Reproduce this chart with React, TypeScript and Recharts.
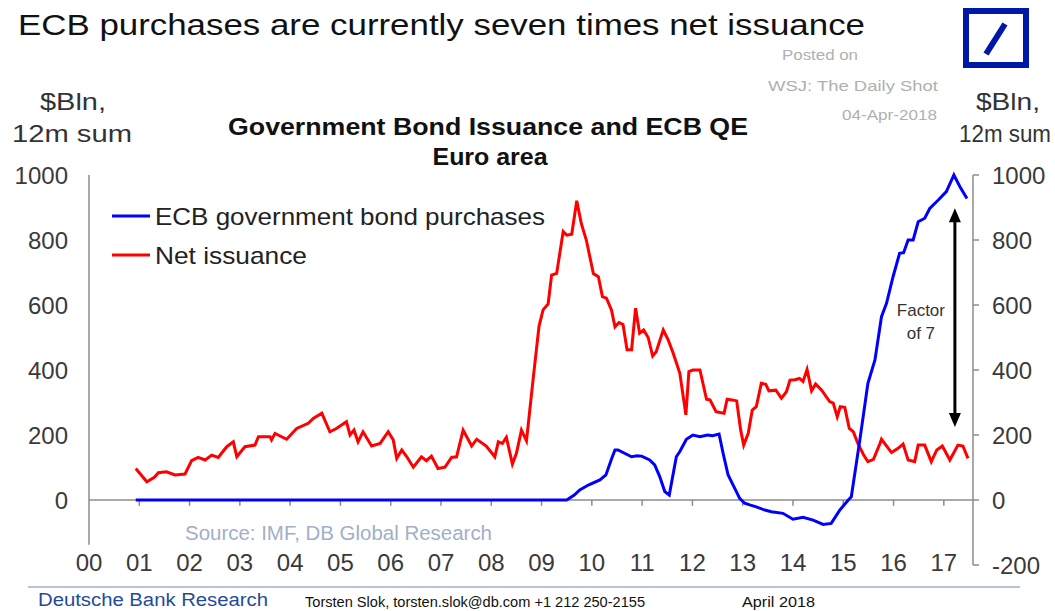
import { LineChart, Line, XAxis, YAxis, ReferenceLine } from "recharts";

// fractional years (x) and $bn 12m sums (y)
const netIssuanceDates = [
  2000.93, 2001.15, 2001.3, 2001.38, 2001.54, 2001.71, 2001.91, 2002.04, 2002.17, 2002.31, 2002.44, 2002.57,
  2002.74, 2002.87, 2002.94, 2003.1, 2003.3, 2003.37, 2003.6, 2003.63, 2003.7, 2003.93, 2004.13, 2004.36,
  2004.46, 2004.63, 2004.79, 2004.92, 2005.12, 2005.19, 2005.27, 2005.35, 2005.45, 2005.62, 2005.79, 2005.95,
  2006.05, 2006.12, 2006.22, 2006.32, 2006.45, 2006.61, 2006.71, 2006.81, 2006.94, 2007.08, 2007.21, 2007.31,
  2007.44, 2007.61, 2007.71, 2007.9, 2008.07, 2008.14, 2008.22, 2008.3, 2008.42, 2008.5, 2008.6, 2008.7,
  2008.83, 2008.95, 2009.03, 2009.13, 2009.2, 2009.3, 2009.43, 2009.5, 2009.6, 2009.7, 2009.79, 2009.89,
  2010.03, 2010.13, 2010.21, 2010.29, 2010.39, 2010.46, 2010.54, 2010.62, 2010.7, 2010.79, 2010.87, 2010.95,
  2011.03, 2011.12, 2011.21, 2011.28, 2011.42, 2011.52, 2011.62, 2011.75, 2011.87, 2011.93, 2012.01, 2012.15,
  2012.28, 2012.35, 2012.47, 2012.55, 2012.63, 2012.69, 2012.79, 2012.88, 2012.96, 2013.02, 2013.11, 2013.19,
  2013.27, 2013.37, 2013.46, 2013.52, 2013.66, 2013.77, 2013.87, 2013.94, 2014.04, 2014.13, 2014.2, 2014.28,
  2014.37, 2014.45, 2014.57, 2014.73, 2014.8, 2014.88, 2014.94, 2015.03, 2015.12, 2015.2, 2015.29, 2015.4,
  2015.49, 2015.6, 2015.73, 2015.76, 2015.96, 2016.09, 2016.19, 2016.29, 2016.42, 2016.49, 2016.62, 2016.75,
  2016.86, 2016.97, 2017.12, 2017.28, 2017.38, 2017.48,
];
const netIssuance = [
  97, 56, 70, 84, 87, 77, 80, 121, 131, 123, 138, 131,
  164, 179, 133, 164, 169, 195, 195, 185, 205, 187, 220, 236,
  251, 267, 210, 220, 241, 200, 215, 179, 210, 166, 174, 210,
  185, 128, 154, 133, 101, 133, 121, 135, 97, 101, 131, 133,
  215, 166, 187, 166, 133, 179, 174, 193, 111, 144, 215, 182,
  369, 535, 585, 603, 692, 697, 826, 815, 818, 921, 851, 800,
  697, 687, 626, 621, 585, 533, 546, 540, 462, 462, 590, 513,
  523, 500, 443, 456, 523, 492, 451, 390, 262, 395, 400, 400,
  310, 308, 272, 269, 267, 310, 308, 305, 215, 169, 205, 277,
  287, 359, 356, 336, 338, 313, 333, 369, 370, 374, 365, 402,
  336, 357, 338, 303, 298, 256, 287, 285, 220, 210, 174, 140,
  118, 125, 174, 187, 146, 159, 172, 123, 118, 169, 169, 118,
  154, 166, 123, 169, 166, 128,
];

const ecbDates = [
  2000.93, 2009.5, 2009.65, 2009.76, 2009.93, 2010.16, 2010.28, 2010.4, 2010.46, 2010.52, 2010.79, 2010.9,
  2010.99, 2011.15, 2011.25, 2011.35, 2011.45, 2011.54, 2011.68, 2011.75, 2011.88, 2012.01, 2012.15, 2012.3,
  2012.4, 2012.53, 2012.61, 2012.71, 2012.81, 2012.94, 2013.04, 2013.14, 2013.27, 2013.44, 2013.57, 2013.8,
  2014.0, 2014.2, 2014.4, 2014.6, 2014.76, 2014.93, 2015.1, 2015.16, 2015.33, 2015.49, 2015.63, 2015.76,
  2015.86, 2015.99, 2016.12, 2016.2, 2016.29, 2016.39, 2016.49, 2016.62, 2016.72, 2016.89, 2017.05, 2017.2,
  2017.32, 2017.46,
];
const ecbPurchases = [
  0, 0, 15, 31, 46, 62, 77, 130, 154, 154, 133, 136,
  135, 123, 108, 72, 26, 15, 133, 149, 187, 200, 195, 200,
  198, 203, 144, 77, 46, 5, -10, -15, -21, -31, -36, -41,
  -59, -53, -62, -75, -72, -31, 0, 10, 185, 359, 431, 564,
  605, 687, 759, 761, 800, 800, 856, 867, 897, 923, 949, 1000,
  964, 928,
];

const yearTicks = [
  2000, 2001, 2002, 2003, 2004, 2005, 2006, 2007, 2008, 2009, 2010, 2011, 2012, 2013, 2014, 2015, 2016, 2017,
];
const leftTicks = [0, 200, 400, 600, 800, 1000];
const rightTicks = [-200, 0, 200, 400, 600, 800, 1000];

const netData = netIssuanceDates.map((d, i) => ({ date: d, value: netIssuance[i] }));
const ecbData = ecbDates.map((d, i) => ({ date: d, value: ecbPurchases[i] }));

const FONT = '"Liberation Sans", Arial, sans-serif';
const AXIS = "#8c8c8c";
const TICK_TEXT = "#3a3a3a";

function YearTick({ x, y, payload }: any) {
  return (
    <text x={x} y={y + 6} textAnchor="middle" fontSize={24} fill={TICK_TEXT} fontFamily={FONT}>
      {String(payload.value % 100).padStart(2, "0")}
    </text>
  );
}

function FactorArrow({ x1, y1, y2 }: any) {
  const top = Math.min(y1, y2);
  const bottom = Math.max(y1, y2);
  return (
    <g>
      <line x1={x1} y1={top + 10} x2={x1} y2={bottom - 10} stroke="#000" strokeWidth={3} />
      <polygon points={`${x1 - 6},${top + 14} ${x1 + 6},${top + 14} ${x1},${top}`} fill="#000" />
      <polygon points={`${x1 - 6},${bottom - 14} ${x1 + 6},${bottom - 14} ${x1},${bottom}`} fill="#000" />
      <text x={x1 - 34} y={top + 108} textAnchor="middle" fontSize={17} fill="#333" fontFamily={FONT}>
        Factor
      </text>
      <text x={x1 - 34} y={top + 131} textAnchor="middle" fontSize={17} fill="#333" fontFamily={FONT}>
        of 7
      </text>
    </g>
  );
}

export default function App() {
  return (
    <div style={{ position: "absolute", left: 0, top: 0, width: 1055, height: 611, background: "#fff" }}>
      <LineChart width={1055} height={611} margin={{ top: 175, right: 0, left: 0, bottom: 0 }}>
        <XAxis
          dataKey="date"
          type="number"
          domain={[2000, 2017.58]}
          ticks={yearTicks}
          height={46}
          axisLine={false}
          tickLine={false}
          tickSize={0}
          tickMargin={0}
          tick={<YearTick />}
        />
        <YAxis
          yAxisId="left"
          type="number"
          domain={[-200, 1000]}
          ticks={leftTicks}
          width={89}
          axisLine={false}
          tickLine={false}
          tickSize={0}
          tickMargin={21}
          tick={{ fontSize: 24, fill: TICK_TEXT, fontFamily: FONT }}
        />
        <YAxis
          yAxisId="right"
          orientation="right"
          type="number"
          domain={[-200, 1000]}
          ticks={rightTicks}
          width={82}
          axisLine={{ stroke: AXIS, strokeWidth: 1.5 }}
          tickLine={{ stroke: AXIS, strokeWidth: 1.5 }}
          tickSize={6}
          tickMargin={13}
          tick={{ fontSize: 24, fill: TICK_TEXT, fontFamily: FONT }}
        />
        <ReferenceLine
          yAxisId="left"
          segment={[
            { x: 2000, y: -138 },
            { x: 2000, y: 1000 },
          ]}
          stroke={AXIS}
          strokeWidth={1.5}
        />
        <ReferenceLine yAxisId="left" y={0} stroke={AXIS} strokeWidth={1.5} />
        {yearTicks.slice(1).map((yr) => (
          <ReferenceLine
            key={yr}
            yAxisId="left"
            segment={[
              { x: yr, y: 0 },
              { x: yr, y: -18 },
            ]}
            stroke={AXIS}
            strokeWidth={1.5}
          />
        ))}
        <ReferenceLine
          yAxisId="left"
          segment={[
            { x: 2017.22, y: 225 },
            { x: 2017.22, y: 898 },
          ]}
          shape={<FactorArrow />}
        />
        <Line
          yAxisId="left"
          data={netData}
          dataKey="value"
          stroke="#ff0000"
          strokeWidth={3}
          dot={false}
          isAnimationActive={false}
        />
        <Line
          yAxisId="left"
          data={ecbData}
          dataKey="value"
          stroke="#0000ff"
          strokeWidth={3}
          dot={false}
          isAnimationActive={false}
        />
        {/* right axis needs a series bound to it to be drawn; this one is invisible */}
        <Line
          yAxisId="right"
          data={ecbData}
          dataKey="value"
          stroke="none"
          dot={false}
          activeDot={false}
          legendType="none"
          isAnimationActive={false}
        />
      </LineChart>

      <svg
        width={1055}
        height={611}
        style={{ position: "absolute", left: 0, top: 0, pointerEvents: "none" }}
        fontFamily={FONT}
      >
        <text x={18} y={35} fontSize={29} fill="#111" textLength={847} lengthAdjust="spacingAndGlyphs">
          ECB purchases are currently seven times net issuance
        </text>

        <rect x={966} y={11} width={60} height={54} fill="none" stroke="#0018a8" strokeWidth={6} />
        <line x1={1005} y1={24} x2={986} y2={54} stroke="#0018a8" strokeWidth={6} />

        <text x={782} y={60} fontSize={14} fill="#b0b0b0" textLength={76} lengthAdjust="spacingAndGlyphs">
          Posted on
        </text>
        <text x={768} y={91} fontSize={14} fill="#b0b0b0" textLength={170} lengthAdjust="spacingAndGlyphs">
          WSJ: The Daily Shot
        </text>
        <text x={842} y={120} fontSize={14} fill="#b0b0b0" textLength={95} lengthAdjust="spacingAndGlyphs">
          04-Apr-2018
        </text>

        <text x={40} y={110} fontSize={24} fill="#333" textLength={66} lengthAdjust="spacingAndGlyphs">
          $Bln,
        </text>
        <text x={12} y={142} fontSize={24} fill="#333" textLength={120} lengthAdjust="spacingAndGlyphs">
          12m sum
        </text>
        <text x={976} y={110} fontSize={24} fill="#333" textLength={64} lengthAdjust="spacingAndGlyphs">
          $Bln,
        </text>
        <text x={959} y={142} fontSize={23} fill="#333" textLength={92} lengthAdjust="spacingAndGlyphs">
          12m sum
        </text>

        <text
          x={488}
          y={135}
          textAnchor="middle"
          fontSize={23}
          fontWeight="bold"
          fill="#111"
          textLength={520}
          lengthAdjust="spacingAndGlyphs"
        >
          Government Bond Issuance and ECB QE
        </text>
        <text
          x={490}
          y={165}
          textAnchor="middle"
          fontSize={23}
          fontWeight="bold"
          fill="#111"
          textLength={115}
          lengthAdjust="spacingAndGlyphs"
        >
          Euro area
        </text>

        <line x1={112} y1={216} x2={150} y2={216} stroke="#0000ff" strokeWidth={3} />
        <text x={155} y={225} fontSize={24} fill="#222" textLength={390} lengthAdjust="spacingAndGlyphs">
          ECB government bond purchases
        </text>
        <line x1={112} y1={255} x2={150} y2={255} stroke="#ff0000" strokeWidth={3} />
        <text x={155} y={264} fontSize={24} fill="#222" textLength={152} lengthAdjust="spacingAndGlyphs">
          Net issuance
        </text>

        <text x={185} y={540} fontSize={20} fill="#9fb0c8" textLength={307} lengthAdjust="spacingAndGlyphs">
          Source: IMF, DB Global Research
        </text>

        <line x1={28} y1={587} x2={1020} y2={587} stroke="#b7c3d6" strokeWidth={2} />
        <text x={38} y={606} fontSize={18} fill="#1f4b9a" textLength={230} lengthAdjust="spacingAndGlyphs">
          Deutsche Bank Research
        </text>
        <text x={305} y={607} fontSize={14} fill="#111" textLength={340} lengthAdjust="spacingAndGlyphs">
          Torsten Slok, torsten.slok@db.com  +1 212 250-2155
        </text>
        <text x={742} y={607} fontSize={14} fill="#111" textLength={73} lengthAdjust="spacingAndGlyphs">
          April 2018
        </text>
      </svg>
    </div>
  );
}
